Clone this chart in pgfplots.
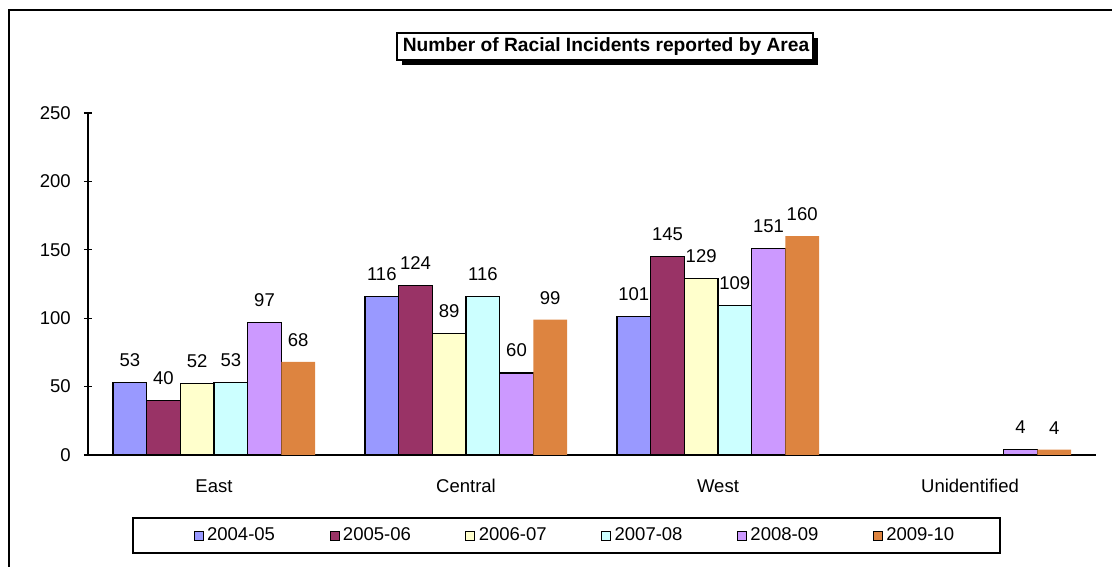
\documentclass[border=0pt]{standalone}
\usepackage{fontspec}
\setmainfont{Liberation Sans}
\usepackage{pgfplots}
\pgfplotsset{compat=1.18}
\definecolor{c1}{RGB}{153,153,255}
\definecolor{c2}{RGB}{153,51,102}
\definecolor{c3}{RGB}{255,255,204}
\definecolor{c4}{RGB}{204,255,255}
\definecolor{c5}{RGB}{204,153,255}
\definecolor{c6}{RGB}{221,132,64}
\newcommand{\ff}{\fontsize{18.5}{22}\selectfont}
\begin{document}
\ff
\begin{tikzpicture}[x=1pt,y=1pt]
\useasboundingbox (0,0) rectangle (1112,567);
\draw[line width=2pt] (9,0) -- (9,557) -- (1112,557);
% title box with shadow
\fill[black] (402,502) rectangle (818,529);
\filldraw[fill=white,draw=black,line width=1.2pt] (397,507) rectangle (813,534);
\node[font=\fontsize{19.2}{23}\selectfont\bfseries] at (606,520.5) {Number of Racial Incidents reported by Area};
% legend frame
\draw[line width=1.3pt] (133,14) rectangle (1000,49);
\begin{axis}[
  at={(88pt,112pt)}, anchor=south west,
  scale only axis, width=1008pt, height=342pt,
  xmin=-0.5, xmax=3.5, ymin=0, ymax=250,
  axis x line=bottom, axis y line=left,
  axis line style={-, line width=1.3pt},
  ytick={0,50,...,250},
  xtick={0,1,2,3},
  xticklabels={East,Central,West,Unidentified},
  major tick length=8pt,
  tick align=center,
  tick style={line width=1.3pt, black},
  x tick style={draw=none},
  extra x ticks={-0.5,0.5,1.5,2.5,3.5},
  extra x tick labels={},
  extra x tick style={tick style={draw=black, line width=1.3pt}},
  tick label style={font=\ff},
  /pgf/number format/assume math mode=true,
  yticklabel style={xshift=-7pt},
  xticklabel style={yshift=-10pt},
  ybar=0pt, bar width=33.67pt,
  nodes near coords,
  every node near coord/.append style={font=\ff, yshift=9pt},
  legend columns=6,
  legend style={at={(axis description cs:0.4831,-0.2354)}, anchor=center,
    draw=none, fill=none, font=\ff,
    /tikz/every even column/.append style={column sep=52.5pt},
    inner xsep=0pt, inner ysep=4pt},
  legend image code/.code={\draw[#1,line width=0.9pt] (0pt,-4.5pt) rectangle (9pt,4.5pt); \path[draw=none,fill=none] (9pt,0pt) -- (11pt,0pt);},
]
\addplot[fill=c1, draw=black, line width=1.2pt] coordinates {(0,53) (1,116) (2,101)};
\addplot[fill=c2, draw=black, line width=1.2pt] coordinates {(0,40) (1,124) (2,145)};
\addplot[fill=c3, draw=black, line width=1.2pt] coordinates {(0,52) (1,89) (2,129)};
\addplot[fill=c4, draw=black, line width=1.2pt] coordinates {(0,53) (1,116) (2,109)};
\addplot[fill=c5, draw=black, line width=1.2pt] coordinates {(0,97) (1,60) (2,151) (3,4)};
\addplot[fill=c6, draw=none] coordinates {(0,68) (1,99) (2,160) (3,4)};
\legend{2004-05,2005-06,2006-07,2007-08,2008-09,2009-10}
\end{axis}
\end{tikzpicture}
\end{document}
